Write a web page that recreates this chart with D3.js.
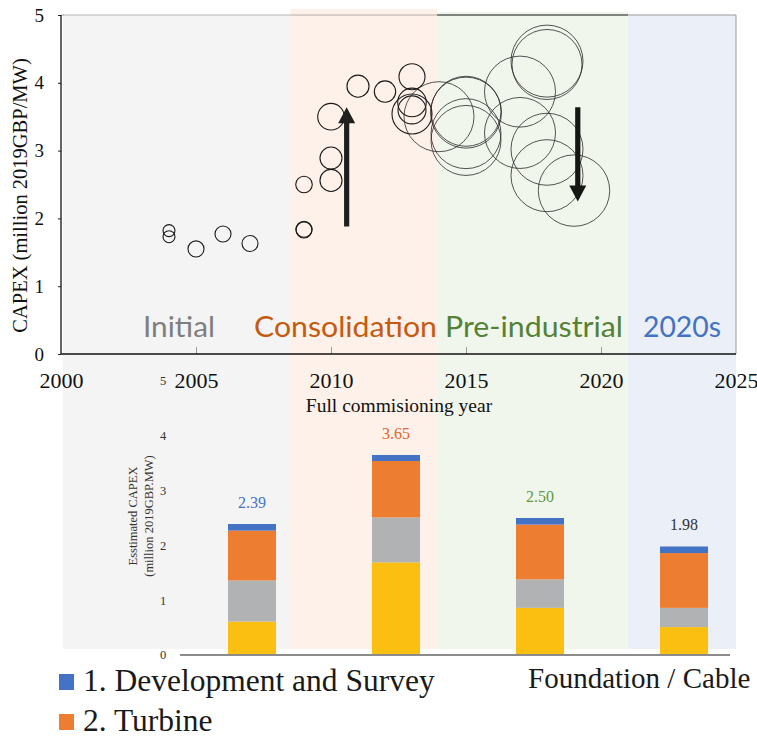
<!DOCTYPE html>
<html>
<head>
<meta charset="utf-8">
<script src="https://cdn.jsdelivr.net/npm/d3@7"></script>
<style>
  html, body { margin: 0; padding: 0; background: #fff; }
  svg { display: block; }
</style>
</head>
<body>
<div id="chart"></div>
<script>
// ---- Project scatter: commissioning year, CAPEX (million 2019 GBP/MW), capacity (MW)
const projYear = [2004, 2004, 2005, 2006, 2007, 2009, 2009, 2009, 2010, 2010, 2010, 2011, 2012,
                  2013, 2013, 2013, 2013, 2014, 2015, 2015, 2015, 2015, 2017, 2017, 2018, 2018,
                  2018, 2018, 2019];
const projCapex = [1.82, 1.73, 1.55, 1.77, 1.63, 2.50, 1.83, 1.84, 3.50, 2.89, 2.56, 3.95, 3.87,
                   4.09, 3.71, 3.60, 3.54, 3.50, 3.58, 3.56, 3.25, 3.15, 3.87, 3.26, 4.32, 4.27,
                   3.02, 2.63, 2.41];
const projMW = [35, 35, 63, 63, 63, 67, 63, 63, 173, 119, 119, 119, 112,
                166, 200, 192, 392, 1200, 1200, 1235, 1200, 1200, 1235, 1235, 1270, 1200,
                1270, 1270, 1249];

// ---- Trend arrows (year, start CAPEX, end CAPEX)
const arrowYear = [2010.58, 2019.14];
const arrowFrom = [1.88, 3.64];
const arrowTo = [3.64, 2.25];

// ---- Development phases
const phaseNames = ["Initial", "Consolidation", "Pre-industrial", "2020s"];
const phaseStart = [2000.07, 2008.5, 2013.93, 2021.0];
const phaseEnd = [2008.5, 2013.93, 2021.0, 2025.0];
const phaseFill = ["#f4f4f4", "#fef1e9", "#f1f6ed", "#eaeff8"];
const phaseText = ["#7f7f7f", "#c55a11", "#548235", "#4472c4"];
const phaseTopLine = ["#b4b4b4", "#b5aaa3", "#111111", "#9a9a9a"];

// ---- Estimated CAPEX breakdown per phase
const barPhase = ["Initial", "Consolidation", "Pre-industrial", "2020s"];
const costDev = [0.12, 0.11, 0.12, 0.12];
const costTurbine = [0.91, 1.03, 1.00, 1.00];
const costOther = [0.75, 0.82, 0.52, 0.35];
const costFoundation = [0.61, 1.69, 0.86, 0.51];
const barTotals = ["2.39", "3.65", "2.50", "1.98"];
const totalColor = ["#4472c4", "#e0652a", "#5e9a3c", "#333333"];

// axis tick labels
const xTickYears = [2000, 2005, 2010, 2015, 2020, 2025];
const yTicksTop = [0, 1, 2, 3, 4, 5];
const yTicksBottom = [0, 1, 2, 3, 4, 5];

const W = 757, H = 738;
const serif = "'Liberation Serif', 'Times New Roman', serif";
const sans = "Lato, 'Open Sans', sans-serif";

const svg = d3.select("#chart").append("svg")
  .attr("width", W).attr("height", H)
  .attr("viewBox", `0 0 ${W} ${H}`);
svg.append("rect").attr("width", W).attr("height", H).attr("fill", "#fff");

// ---------- upper scatter chart ----------
const x = d3.scaleLinear().domain([2000, 2025]).range([61, 736]);
const y = d3.scaleLinear().domain([0, 5]).range([354, 15]);
const r = d3.scaleSqrt().domain([0, 1200]).range([0, 35]);

// lower bar chart scales
const xb = d3.scaleBand().domain(barPhase).range([180, 756]).paddingInner(2 / 3).paddingOuter(1 / 3);
const yb = d3.scaleLinear().domain([0, 5]).range([655, 381]);

// phase background bands (span both charts)
const bandTops = [15, 9, 12, 15];
const bandBottom = 649;
const bands = phaseNames.map((n, i) => ({ n, i, s: phaseStart[i], e: phaseEnd[i] }));
svg.append("g").selectAll("rect").data(bands).join("rect")
  .attr("x", d => x(d.s)).attr("width", d => x(d.e) - x(d.s))
  .attr("y", d => bandTops[d.i]).attr("height", d => bandBottom - bandTops[d.i])
  .attr("fill", d => phaseFill[d.i]);

// frame: top and right edges
svg.append("g").selectAll("line").data(bands).join("line")
  .attr("x1", d => Math.max(x(d.s), x(2000))).attr("x2", d => x(d.e))
  .attr("y1", y(5)).attr("y2", y(5))
  .attr("stroke", d => phaseTopLine[d.i]).attr("stroke-width", 1.2);
svg.append("line").attr("x1", x(2000)).attr("x2", x(2000) + 3)
  .attr("y1", y(5)).attr("y2", y(5)).attr("stroke", "#b4b4b4").attr("stroke-width", 1.2);
svg.append("line").attr("x1", x(2025)).attr("x2", x(2025))
  .attr("y1", y(5)).attr("y2", y(0)).attr("stroke", "#9a9a9a").attr("stroke-width", 1);

// phase names
const phaseLabelX = [179, 345.5, 534, 682];
const phaseLabelLen = [72, 183, 178, 78];
svg.append("g").selectAll("text").data(bands).join("text")
  .attr("x", d => phaseLabelX[d.i]).attr("y", 337)
  .attr("text-anchor", "middle")
  .attr("font-family", sans).attr("font-size", 28)
  .attr("textLength", d => phaseLabelLen[d.i]).attr("lengthAdjust", "spacingAndGlyphs")
  .attr("fill", d => phaseText[d.i])
  .text(d => d.n);

// project bubbles
const projects = projYear.map((yr, i) => ({ yr, c: projCapex[i], mw: projMW[i] }));
svg.append("g").selectAll("circle").data(projects).join("circle")
  .attr("cx", d => x(d.yr)).attr("cy", d => y(d.c)).attr("r", d => r(d.mw))
  .attr("fill", "none")
  .attr("stroke", d => r(d.mw) > 25 ? "#2a2a2a" : "#1a1a1a")
  .attr("stroke-width", d => r(d.mw) > 25 ? 0.8 : 1.1);

// trend arrows
const arrows = arrowYear.map((a, i) => ({ a, f: arrowFrom[i], t: arrowTo[i] }));
svg.append("g").selectAll("path").data(arrows).join("path")
  .attr("d", d => {
    const cx = x(d.a), y0 = y(d.f), y1 = y(d.t);
    const dir = y1 < y0 ? -1 : 1;           // -1 = pointing up
    const head = 16, hw = 8.5, sw = 2.6;
    const yb0 = y1 - dir * head;
    return `M${cx - sw},${y0} L${cx - sw},${yb0} L${cx - hw},${yb0} L${cx},${y1} ` +
           `L${cx + hw},${yb0} L${cx + sw},${yb0} L${cx + sw},${y0} Z`;
  })
  .attr("fill", d => d.t > d.f ? "#1f1f1f" : "#141712");

// x axis (ticks point inward)
const xAxis = d3.axisBottom(x).tickValues(xTickYears).tickFormat(d3.format("d"))
  .tickSizeInner(-7).tickSizeOuter(0).tickPadding(18);
const gx = svg.append("g").attr("transform", `translate(0,${y(0)})`).call(xAxis);
gx.select(".domain").remove();
gx.selectAll(".tick line").attr("stroke", "#9a9a9a");
gx.selectAll(".tick").filter(d => d === 2000 || d === 2025).select("line").remove();
gx.selectAll("text").attr("font-family", serif).attr("font-size", 22).attr("fill", "#111");

// y axis
const yAxis = d3.axisLeft(y).tickValues(yTicksTop).tickFormat(d3.format("d"))
  .tickSizeInner(3).tickSizeOuter(0).tickPadding(14);
const gy = svg.append("g").attr("transform", `translate(${x(2000)},0)`).call(yAxis);
gy.select(".domain").remove();
gy.selectAll(".tick line").attr("stroke", "#222");
gy.selectAll("text").attr("font-family", serif).attr("font-size", 19).attr("fill", "#111");

// left and bottom axis lines
svg.append("line").attr("x1", x(2000)).attr("x2", x(2000)).attr("y1", y(5)).attr("y2", y(0))
  .attr("stroke", "#111").attr("stroke-width", 1.3);
svg.append("line").attr("x1", x(2000)).attr("x2", x(2025)).attr("y1", y(0)).attr("y2", y(0))
  .attr("stroke", "#111").attr("stroke-width", 1.3);

// axis titles
svg.append("text")
  .attr("transform", `translate(27,${(y(0) + y(5)) / 2 + 11}) rotate(-90)`)
  .attr("text-anchor", "middle").attr("font-family", serif).attr("font-size", 20.5)
  .attr("fill", "#111").text("CAPEX (million 2019GBP/MW)");
svg.append("text").attr("x", 399).attr("y", 412).attr("text-anchor", "middle")
  .attr("font-family", serif).attr("font-size", 19.5).attr("fill", "#111")
  .text("Full commisioning year");

// ---------- lower stacked bar chart ----------
const stackRows = barPhase.map((p, i) => ({
  phase: p, foundation: costFoundation[i], other: costOther[i],
  turbine: costTurbine[i], dev: costDev[i]
}));
const keys = ["foundation", "other", "turbine", "dev"];
const keyColor = { foundation: "#fbbf12", other: "#b1b2b3", turbine: "#ed7d31", dev: "#4472c4" };
const stacked = d3.stack().keys(keys)(stackRows);

svg.append("g").selectAll("g").data(stacked).join("g")
  .attr("fill", s => keyColor[s.key])
  .selectAll("rect").data(s => s).join("rect")
  .attr("x", d => xb(d.data.phase)).attr("width", xb.bandwidth())
  .attr("y", d => yb(d[1])).attr("height", d => yb(d[0]) - yb(d[1]));

// totals above bars
svg.append("g").selectAll("text").data(stackRows).join("text")
  .attr("x", d => xb(d.phase) + xb.bandwidth() / 2)
  .attr("y", (d, i) => yb(+barTotals[i]) - 16)
  .attr("text-anchor", "middle").attr("font-family", serif).attr("font-size", 16)
  .attr("fill", (d, i) => totalColor[i])
  .text((d, i) => barTotals[i]);

// baseline
svg.append("line").attr("x1", 180).attr("x2", 730).attr("y1", yb(0)).attr("y2", yb(0))
  .attr("stroke", "#8c8c8c").attr("stroke-width", 2.2);

// y tick labels
svg.append("g").selectAll("text").data(yTicksBottom).join("text")
  .attr("x", 163).attr("y", d => yb(d)).attr("dy", "0.35em").attr("text-anchor", "middle")
  .attr("font-family", serif).attr("font-size", 12.5).attr("fill", "#333")
  .text(d => d);

// y title (two lines)
const yt = svg.append("text")
  .attr("transform", `translate(137,516) rotate(-90)`)
  .attr("text-anchor", "middle").attr("font-family", serif).attr("font-size", 12.5).attr("fill", "#333");
yt.append("tspan").attr("x", 0).attr("dy", 0).text("Esstimated CAPEX");
yt.append("tspan").attr("x", 0).attr("dy", 16).text("(million 2019GBP.MW)");

// legend
const legendItems = [
  { label: "1. Development and Survey", color: keyColor.dev, x: 59, y: 691, size: 31.5, swatch: true },
  { label: "2. Turbine", color: keyColor.turbine, x: 59, y: 731, size: 31.5, swatch: true },
  { label: "Foundation / Cable", color: null, x: 528, y: 688, size: 29, swatch: false }
];
const lg = svg.append("g").selectAll("g").data(legendItems).join("g");
lg.filter(d => d.swatch).append("rect")
  .attr("x", d => d.x).attr("y", d => d.y - 17).attr("width", 15).attr("height", 16)
  .attr("fill", d => d.color);
lg.append("text")
  .attr("x", d => d.swatch ? d.x + 24 : d.x).attr("y", d => d.y)
  .attr("font-family", serif).attr("font-size", d => d.size).attr("fill", "#1a1a1a")
  .text(d => d.label);
</script>
</body>
</html>
